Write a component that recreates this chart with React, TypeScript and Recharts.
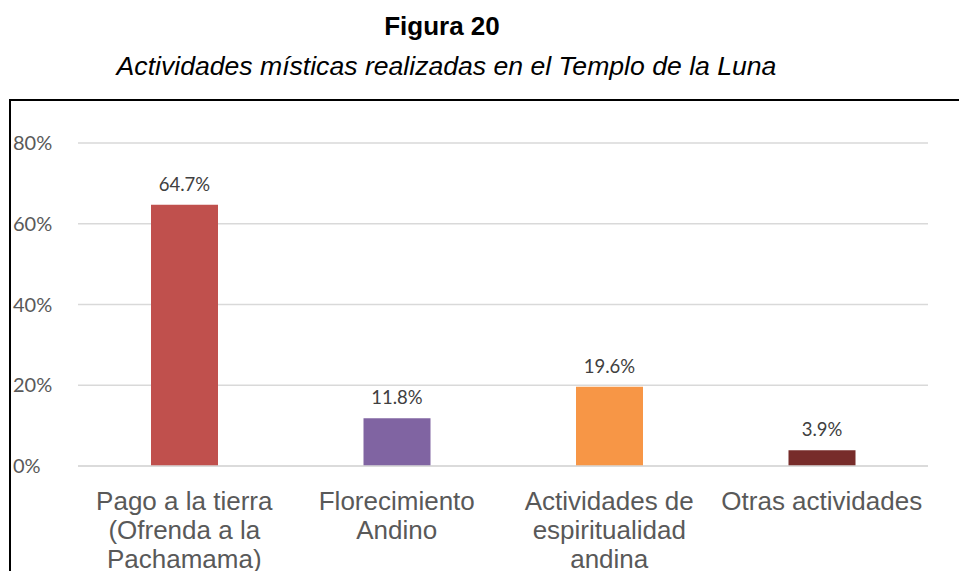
import { BarChart, Bar, XAxis, YAxis, CartesianGrid, LabelList, Cell } from "recharts";

const categories = [
  "Pago a la tierra (Ofrenda a la Pachamama)",
  "Florecimiento Andino",
  "Actividades de espiritualidad andina",
  "Otras actividades"
];

const tickLines = [
  ["Pago a la tierra", "(Ofrenda a la", "Pachamama)"],
  ["Florecimiento", "Andino"],
  ["Actividades de", "espiritualidad", "andina"],
  ["Otras actividades"]
];

const percentages = [64.7, 11.8, 19.6, 3.9];

const barColors = ["#C0504D", "#8064A2", "#F79646", "#772C2A"];

const yTicks = [0, 20, 40, 60, 80];

const data = categories.map((name, i) => ({
  name,
  lines: tickLines[i],
  value: percentages[i]
}));

function XTick(props: any) {
  const { x, y, index } = props;
  const lines = tickLines[index] || [];
  return (
    <text
      x={x}
      y={y}
      textAnchor="middle"
      fill="#595959"
      fontFamily="'Liberation Sans', Arial, sans-serif"
      fontSize={26}
    >
      {lines.map((l: string, i: number) => (
        <tspan key={i} x={x} y={y + 36 + i * 29}>
          {l}
        </tspan>
      ))}
    </text>
  );
}

function YTick(props: any) {
  const { y, payload } = props;
  return (
    <text
      x={13}
      y={y}
      dy={7}
      textAnchor="start"
      fill="#595959"
      fontFamily="Lato, sans-serif"
      fontSize={20}
    >
      {payload.value + "%"}
    </text>
  );
}

export default function App() {
  return (
    <div
      style={{
        position: "absolute",
        left: 0,
        top: 0,
        width: 959,
        height: 571,
        background: "#fff",
        overflow: "hidden"
      }}
    >
      <div
        style={{
          position: "absolute",
          left: 0,
          width: 884,
          top: 11,
          textAlign: "center",
          fontFamily: "'Liberation Sans', Arial, sans-serif",
          fontWeight: "bold",
          fontSize: 26,
          lineHeight: "30px",
          color: "#000"
        }}
      >
        Figura 20
      </div>
      <div
        style={{
          position: "absolute",
          left: 0,
          width: 893,
          top: 51,
          textAlign: "center",
          fontFamily: "'Liberation Sans', Arial, sans-serif",
          fontStyle: "italic",
          fontSize: 26.6,
          lineHeight: "30px",
          color: "#000"
        }}
      >
        Actividades místicas realizadas en el Templo de la Luna
      </div>
      <div
        style={{
          position: "absolute",
          left: 9,
          top: 99,
          width: 960,
          height: 480,
          borderLeft: "2.5px solid #000",
          borderTop: "2.5px solid #000"
        }}
      />
      <div style={{ position: "absolute", left: 0, top: 0 }}>
        <BarChart
          width={959}
          height={571}
          data={data}
          margin={{ top: 143, right: 31, bottom: 0, left: 0 }}
          barSize={67}
        >
          <CartesianGrid vertical={false} stroke="#D9D9D9" strokeWidth={1.5} />
          <XAxis
            dataKey="name"
            height={105}
            axisLine={{ stroke: "#D9D9D9", strokeWidth: 1.5 }}
            tickLine={false}
            interval={0}
            tick={<XTick />}
          />
          <YAxis
            width={78}
            domain={[0, 80]}
            ticks={yTicks}
            axisLine={false}
            tickLine={false}
            tick={<YTick />}
          />
          <Bar dataKey="value" isAnimationActive={false}>
            {data.map((d, i) => (
              <Cell key={d.name} fill={barColors[i]} />
            ))}
            <LabelList
              dataKey="value"
              position="top"
              offset={14}
              fill="#404040"
              fontFamily="Lato, sans-serif"
              fontSize={18.5}
              formatter={(v: any) => v + "%"}
            />
          </Bar>
        </BarChart>
      </div>
    </div>
  );
}
